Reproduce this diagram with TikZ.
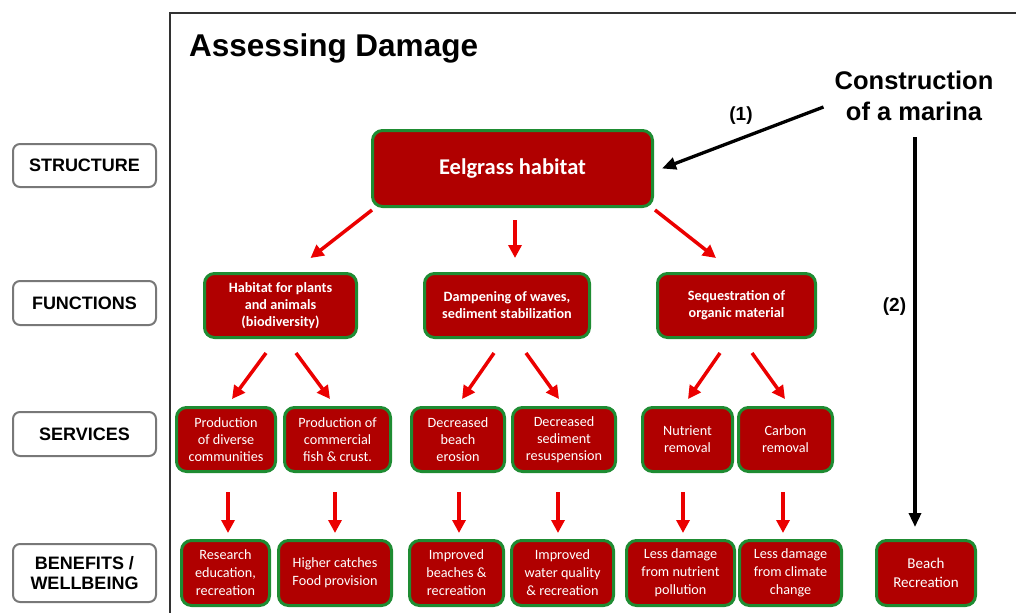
\documentclass[tikz,border=0pt]{standalone}
\usepackage{fontspec}
\setmainfont{Carlito}
\newfontfamily\arialf{Liberation Sans}
\usetikzlibrary{arrows.meta,calc}

\definecolor{boxred}{RGB}{176,0,0}
\definecolor{boxgreen}{RGB}{30,140,50}
\definecolor{arrowred}{RGB}{235,0,0}
\definecolor{labgrey}{RGB}{120,120,120}
\definecolor{framegrey}{RGB}{50,50,50}

\begin{document}
\begin{tikzpicture}[x=1pt,y=-1pt,
  eco/.style={draw=boxgreen, line width=3pt, fill=boxred, rounded corners=10pt,
    text=white, align=center, inner sep=0pt},
  sz/.style 2 args={minimum width=#1, minimum height=#2},
  funtxt/.style={font=\fontsize{14.2}{17}\selectfont\bfseries},
  sertxt/.style={font=\fontsize{14.2}{17}\selectfont},
  bentxt/.style={font=\fontsize{14.2}{18}\selectfont},
  levelbox/.style={draw=labgrey, line width=2pt, fill=white, rounded corners=7pt,
    minimum width=143pt, align=center, inner sep=0pt,
    font=\arialf\bfseries\fontsize{18}{20}\selectfont},
  redarrow/.style={draw=arrowred, line width=3.5pt,
    -{Triangle[length=13pt,width=13pt]}},
  blackarrow/.style={draw=black, line width=3.3pt,
    -{Triangle[length=14pt,width=12pt]}},
  note/.style={font=\arialf\bfseries, align=center, inner sep=0pt}
]
\useasboundingbox (0,0) rectangle (1016,613);

% frame around the assessment
\draw[framegrey, line width=1.5pt] (1016,13) -- (170,13) -- (170,613);

\node[note, anchor=west, font=\arialf\bfseries\fontsize{31.5}{34}\selectfont]
  (title) at (189,48.5) {Assessing Damage};

% level labels
\node[levelbox, minimum height=43pt] (lstruct) at (84.5,165.5) {STRUCTURE};
\node[levelbox, minimum height=44pt] (lfunc) at (84.5,303) {FUNCTIONS};
\node[levelbox, minimum height=44pt] (lserv) at (84.5,434) {SERVICES};
\node[levelbox, minimum height=58pt] (lben) at (84.5,573) {BENEFITS /\\WELLBEING};

% structure
\node[eco, sz={280pt}{76pt}, font=\fontsize{22.5}{26}\selectfont\bfseries]
  (eel) at (512.5,168.5) {Eelgrass habitat};

% functions
\node[eco, sz={152pt}{64pt}, funtxt] (hab) at (280.5,305.5)
  {Habitat for plants\\and animals\\(biodiversity)};
\node[eco, sz={165pt}{64pt}, funtxt] (dam) at (507,305.5)
  {Dampening of waves,\\sediment stabilization};
\node[eco, sz={158pt}{64pt}, funtxt] (seq) at (736.5,305.5)
  {Sequestration of\\organic material};

% services
\node[eco, sz={99pt}{64pt}, sertxt] (div) at (226,439.5)
  {Production\\of diverse\\communities};
\node[eco, sz={106pt}{64pt}, sertxt] (com) at (337.5,439.5)
  {Production of\\commercial\\fish \& crust.};
\node[eco, sz={93pt}{64pt}, sertxt] (bea) at (458,439.5)
  {Decreased\\beach\\erosion};
\node[eco, sz={103pt}{64pt}, sertxt] (sed) at (564,439.5)
  {Decreased\\sediment\\resuspension};
\node[eco, sz={90pt}{64pt}, sertxt] (nut) at (687.5,439.5)
  {Nutrient\\removal};
\node[eco, sz={94pt}{64pt}, sertxt] (car) at (785.5,439.5)
  {Carbon\\removal};

% benefits / wellbeing
\node[eco, sz={88pt}{65pt}, bentxt] (res) at (225.5,573)
  {Research\\education,\\recreation};
\node[eco, sz={113pt}{65pt}, bentxt] (cat) at (335,573)
  {Higher catches\\Food provision};
\node[eco, sz={94pt}{65pt}, bentxt] (imb) at (456.5,573)
  {Improved\\beaches \&\\recreation};
\node[eco, sz={102pt}{65pt}, bentxt] (imw) at (562.5,573)
  {Improved\\water quality\\\& recreation};
\node[eco, sz={108pt}{65pt}, bentxt] (lnp) at (680.5,573)
  {Less damage\\from nutrient\\pollution};
\node[eco, sz={102pt}{65pt}, bentxt] (lcc) at (790.5,573)
  {Less damage\\from climate\\change};
\node[eco, sz={99pt}{65pt}, font=\fontsize{15}{19}\selectfont] (brec) at (926,573)
  {Beach\\Recreation};

% driver of damage
\node[note, font=\arialf\bfseries\fontsize{25.5}{31}\selectfont] (mar) at (914,96)
  {Construction\\of a marina};
\node[note, font=\arialf\bfseries\fontsize{19}{21}\selectfont] (lab1) at (741,116) {(1)};
\node[note, font=\arialf\bfseries\fontsize{19}{21}\selectfont] (lab2) at (894.5,307) {(2)};

% structure -> functions
\draw[redarrow] ([shift={(1,2)}]eel.south west) -- ([shift={(30,-14)}]hab.north);
\draw[redarrow] ([shift={(2.5,12)}]eel.south) -- ([shift={(8,-14)}]dam.north);
\draw[redarrow] ([shift={(1,2)}]eel.south east) -- ([shift={(-20.5,-14)}]seq.north);

% functions -> services
\draw[redarrow] ([shift={(-14.5,14)}]hab.south) -- ([shift={(6,-7)}]div.north);
\draw[redarrow] ([shift={(15.5,14)}]hab.south) -- ([shift={(-7.5,-7)}]com.north);
\draw[redarrow] ([shift={(-13,14)}]dam.south) -- ([shift={(4,-7)}]bea.north);
\draw[redarrow] ([shift={(19,14)}]dam.south) -- ([shift={(-5,-7)}]sed.north);
\draw[redarrow] ([shift={(-16.5,14)}]seq.south) -- ([shift={(0.5,-7)}]nut.north);
\draw[redarrow] ([shift={(15.5,14)}]seq.south) -- ([shift={(-0.5,-7)}]car.north);

% services -> benefits
\draw[redarrow] ([shift={(2,19)}]div.south) -- ([shift={(2.5,-6)}]res.north);
\draw[redarrow] ([shift={(-2.5,19)}]com.south) -- ([shift={(0,-6)}]cat.north);
\draw[redarrow] ([shift={(1,19)}]bea.south) -- ([shift={(2.5,-6)}]imb.north);
\draw[redarrow] ([shift={(-6,19)}]sed.south) -- ([shift={(-4.5,-6)}]imw.north);
\draw[redarrow] ([shift={(-4.5,19)}]nut.south) -- ([shift={(2.5,-6)}]lnp.north);
\draw[redarrow] ([shift={(-2.5,19)}]car.south) -- ([shift={(-7.5,-6)}]lcc.north);

% marina impacts
\draw[blackarrow] ([shift={(-11,11)}]mar.west) -- ([shift={(8,0)}]eel.east);
\draw[blackarrow] ([shift={(1,16)}]mar.south) -- ([shift={(-11,-12)}]brec.north);
\end{tikzpicture}
\end{document}
